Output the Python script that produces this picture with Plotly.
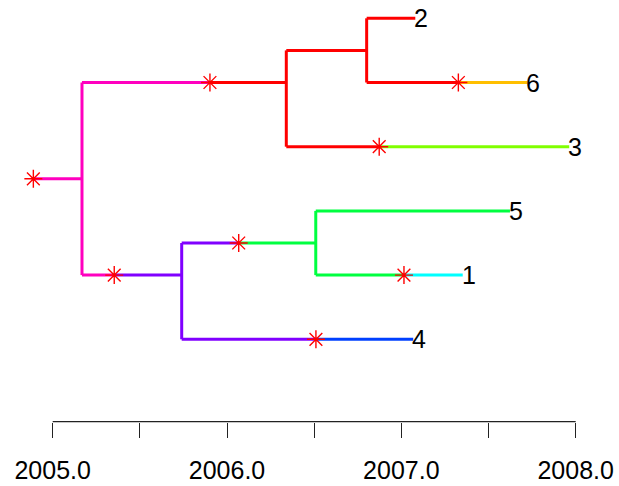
import plotly.graph_objects as go

RED = "#FF0000"; ORANGE = "#FFBF00"; LGREEN = "#80FF00"; GREEN = "#00FF40"
CYAN = "#00FFFF"; BLUE = "#0040FF"; PURPLE = "#8000FF"; MAGENTA = "#FF00BF"

# tips (top to bottom)
tip_labels = ["2", "6", "3", "5", "1", "4"]
tip_y = [6, 5, 4, 3, 2, 1]
tip_time = [2007.08, 2007.721, 2007.963, 2007.623, 2007.352, 2007.068]

# internal nodes
node_names = ["A", "B", "C", "D", "E"]
node_time = [2005.168, 2006.340, 2006.801, 2005.740, 2006.509]
root_start = 2004.889

# edges: parent -> child, with state-change time (asterisk) and colours
edge_parent = ["root", "A", "B", "C", "C", "B", "A", "D", "E", "E", "D"]
edge_child = ["A", "B", "C", "2", "6", "3", "D", "E", "5", "1", "4"]
edge_change = [2004.889, 2005.902, None, None, 2007.327, 2006.873,
               2005.353, 2006.067, None, 2007.015, 2006.510]
edge_col_before = [MAGENTA, MAGENTA, RED, RED, RED, RED, MAGENTA, PURPLE, GREEN, GREEN, PURPLE]
edge_col_after = [MAGENTA, RED, RED, RED, ORANGE, LGREEN, PURPLE, GREEN, GREEN, CYAN, BLUE]

tick_vals = [2005.0, 2005.5, 2006.0, 2006.5, 2007.0, 2007.5, 2008.0]
tick_text = ["2005.0", "", "2006.0", "", "2007.0", "", "2008.0"]

# ---- layout computations ----
time = {"root": root_start}
for n, t in zip(node_names, node_time):
    time[n] = t
for n, t in zip(tip_labels, tip_time):
    time[n] = t

children = {}
for p, c in zip(edge_parent, edge_child):
    children.setdefault(p, []).append(c)

ypos = {n: y for n, y in zip(tip_labels, tip_y)}

def tips_under(n):
    if n in ypos and n not in children:
        return [n]
    out = []
    for c in children.get(n, []):
        out += tips_under(c)
    return out

for n in ["root"] + node_names:
    tl = tips_under(n)
    ypos[n] = sum(ypos[t] for t in tl) / len(tl)
ypos["root"] = ypos["A"]

node_color = {}
for c, col in zip(edge_child, edge_col_after):
    node_color[c] = col

fig = go.Figure()

# vertical connectors
for n in node_names:
    ys = [ypos[c] for c in children[n]]
    fig.add_trace(go.Scatter(x=[time[n], time[n]], y=[min(ys), max(ys)], mode="lines",
                             line=dict(color=node_color[n], width=3), hoverinfo="skip"))

# horizontal edges
ast_x, ast_y = [], []
for p, c, ch, cb, ca in zip(edge_parent, edge_child, edge_change, edge_col_before, edge_col_after):
    y = ypos[c]
    x0, x1 = time[p], time[c]
    if ch is None:
        fig.add_trace(go.Scatter(x=[x0, x1], y=[y, y], mode="lines",
                                 line=dict(color=cb, width=3), hoverinfo="skip"))
    else:
        if ch > x0:
            fig.add_trace(go.Scatter(x=[x0, ch], y=[y, y], mode="lines",
                                     line=dict(color=cb, width=3), hoverinfo="skip"))
        fig.add_trace(go.Scatter(x=[ch, x1], y=[y, y], mode="lines",
                                 line=dict(color=ca, width=3), hoverinfo="skip"))
        ast_x.append(ch); ast_y.append(y)

fig.add_trace(go.Scatter(x=ast_x, y=ast_y, mode="markers",
                         marker=dict(symbol="asterisk-open", size=15, color=RED,
                                     line=dict(color=RED, width=1.4)),
                         hoverinfo="skip"))

# axis line (from first to last tick)
axis_y = -0.2835
fig.add_trace(go.Scatter(x=[tick_vals[0], tick_vals[-1]], y=[axis_y, axis_y], mode="lines",
                         line=dict(color="#222222", width=1.3), hoverinfo="skip"))

for lab, t, y in zip(tip_labels, tip_time, tip_y):
    fig.add_annotation(x=t, y=y, text=lab, showarrow=False, xanchor="left", yanchor="middle",
                       xshift=-3, font=dict(size=25, color="black", family="Liberation Sans, Arial"))

fig.update_layout(
    width=619, height=486, margin=dict(l=0, r=0, t=0, b=0),
    plot_bgcolor="white", paper_bgcolor="white", showlegend=False,
    xaxis=dict(range=[2004.6977, 2008.2485], showgrid=False, zeroline=False, showline=False,
               anchor="free", position=(486 - 421.7) / 486,
               tickmode="array", tickvals=tick_vals, ticktext=tick_text,
               ticks="outside", ticklen=15, tickwidth=1.3, tickcolor="#222222",
               tickfont=dict(size=25, color="black", family="Liberation Sans, Arial"),
               ticklabelstandoff=11),
    yaxis=dict(range=[-1.285, 6.285], visible=False, showgrid=False, zeroline=False),
)

fig.write_html("out.html")
